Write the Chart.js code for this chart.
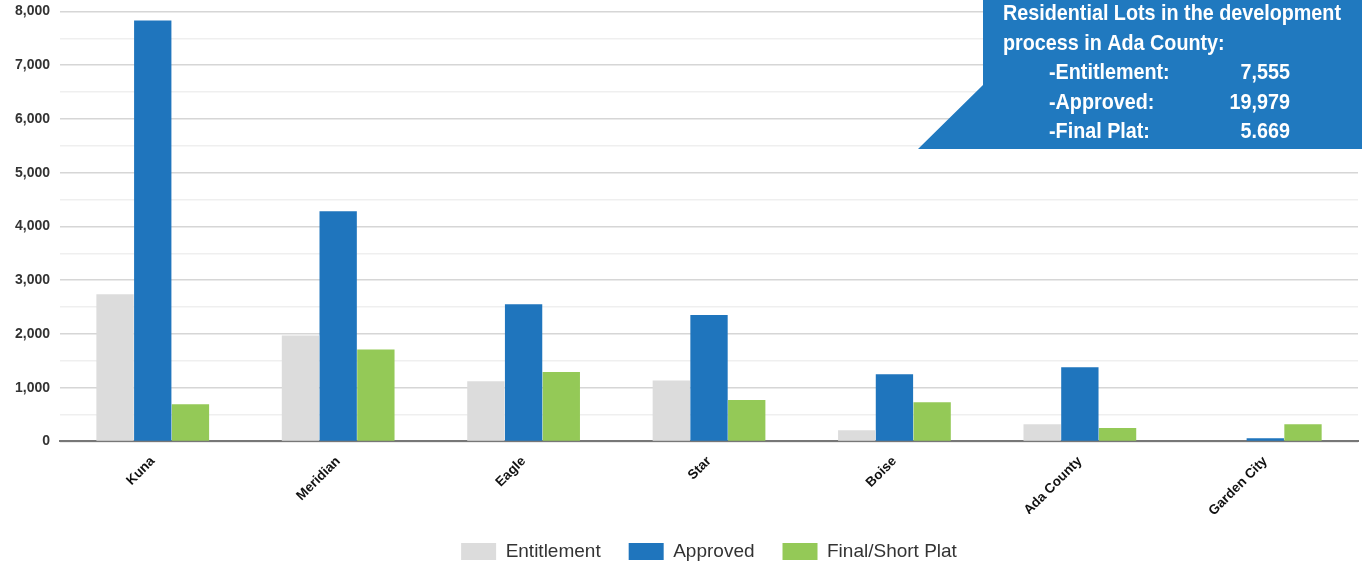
<!DOCTYPE html>
<html>
<head>
<meta charset="utf-8">
<script src="https://cdn.jsdelivr.net/npm/chart.js@4.4.0/dist/chart.umd.min.js"></script>
<style>
  html, body { margin: 0; padding: 0; background: #fff; }
  #wrap { width: 1362px; height: 565px; position: relative; }
</style>
</head>
<body>
<div id="wrap"><canvas id="barChart"></canvas></div>
<script>
var places = ['Kuna', 'Meridian', 'Eagle', 'Star', 'Boise', 'Ada County', 'Garden City'];
var entitlement = [2740, 1970, 1120, 1135, 210, 320, 0];
var approved = [7830, 4280, 2550, 2350, 1250, 1380, 60];
var finalPlat = [690, 1710, 1290, 770, 730, 250, 320];

var boxLines = ['Residential Lots in the development', 'process in Ada County:'];
var boxRows = [['-Entitlement:', '7,555'], ['-Approved:', '19,979'], ['-Final Plat:', '5.669']];

// blue callout box in the top right corner
var calloutBox = {
    id: 'calloutBox',
    afterDraw: function (chart) {
        var ctx = chart.ctx;
        ctx.save();
        ctx.fillStyle = '#2079bf';
        ctx.beginPath();
        ctx.moveTo(983, 0);
        ctx.lineTo(1362, 0);
        ctx.lineTo(1362, 149);
        ctx.lineTo(918, 149);
        ctx.lineTo(983, 85);
        ctx.closePath();
        ctx.fill();

        // the original uses a condensed face, so squeeze a normal one
        ctx.fillStyle = '#fff';
        ctx.font = 'bold 22px "Liberation Sans", sans-serif';
        ctx.textBaseline = 'alphabetic';
        var sx = 338 / ctx.measureText(boxLines[0]).width;
        ctx.scale(sx, 1);
        ctx.textAlign = 'left';
        for (var i = 0; i < boxLines.length; i++) {
            ctx.fillText(boxLines[i], 1003 / sx, 20 + i * 29.5);
        }
        for (var j = 0; j < boxRows.length; j++) {
            var y = 79 + j * 29.5;
            ctx.textAlign = 'left';
            ctx.fillText(boxRows[j][0], 1049 / sx, y);
            ctx.textAlign = 'right';
            ctx.fillText(boxRows[j][1], 1290 / sx, y);
        }
        ctx.restore();
    }
};

// legend: a bit shorter so it sits lower, and centred under the plot area
var legendShift = {
    id: 'legendShift',
    beforeInit: function (chart) {
        var fitValue = chart.legend.fit;
        chart.legend.fit = function () {
            fitValue.bind(chart.legend)();
            this.height -= 6;
        };
    },
    afterLayout: function (chart) {
        var lg = chart.legend;
        var area = chart.chartArea;
        var d = (area.left + area.right) / 2 - (lg.left + lg.right) / 2;
        lg.left += d;
        lg.right += d;
    }
};

var barChartCanvas = document.getElementById('barChart').getContext('2d');
var barChart = new Chart(barChartCanvas, {
    type: 'bar',
    data: {
        labels: places,
        datasets: [
            { label: 'Entitlement', data: entitlement, backgroundColor: '#dcdcdc' },
            { label: 'Approved', data: approved, backgroundColor: '#1f75bd' },
            { label: 'Final/Short Plat', data: finalPlat, backgroundColor: '#94c957' }
        ]
    },
    options: {
        responsive: true,
        maintainAspectRatio: false,
        animation: false,
        layout: { padding: { top: 0, right: 4, left: 5, bottom: 0 } },
        datasets: {
            bar: { categoryPercentage: 0.61, barPercentage: 0.99 }
        },
        scales: {
            x: {
                grid: { display: false },
                border: { color: '#777', width: 2 },
                afterFit: function (scale) {
                    scale.height -= 9;
                },
                ticks: {
                    color: '#111',
                    padding: 4,
                    font: { family: 'Liberation Sans', size: 13.5, weight: 'bold' },
                    maxRotation: 45,
                    minRotation: 45
                }
            },
            y: {
                min: 0,
                max: 8000,
                border: { display: false },
                grid: {
                    color: function (c) {
                        return (c.tick && c.tick.value % 1000 === 0) ? '#d6d6d6' : '#efefef';
                    },
                    lineWidth: 1.5,
                    drawTicks: false
                },
                ticks: {
                    stepSize: 500,
                    padding: 10,
                    color: '#333',
                    font: { family: 'Liberation Sans', size: 14, weight: 'bold', lineHeight: 0.2 },
                    callback: function (v) {
                        return v % 1000 === 0 ? v.toLocaleString('en-US') : '';
                    }
                }
            }
        },
        plugins: {
            legend: {
                position: 'bottom',
                labels: {
                    boxWidth: 35,
                    boxHeight: 17,
                    padding: 28,
                    color: '#333',
                    font: { family: 'Liberation Sans', size: 19 }
                }
            },
            tooltip: { enabled: false }
        }
    },
    plugins: [calloutBox, legendShift]
});
</script>
</body>
</html>
